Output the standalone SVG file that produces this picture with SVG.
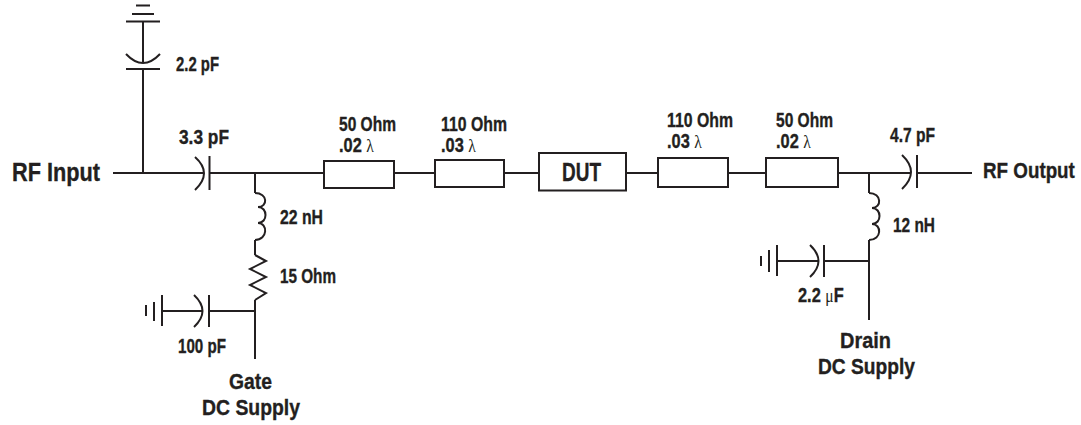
<svg xmlns="http://www.w3.org/2000/svg" width="1081" height="425" viewBox="0 0 1081 425">
<style>
.w{fill:none;stroke:#231f20;stroke-width:2}
text{font-family:"Liberation Sans",Arial,sans-serif;font-weight:700;fill:#231f20;stroke:#231f20;stroke-width:.35;font-size:20px}
.l{font-size:22px}
.i{font-size:26px}
.d{font-size:25px}
.s{font-family:"Liberation Serif","DejaVu Serif",serif;font-weight:400;font-size:19px;stroke:none}
</style>
<rect width="1081" height="425" fill="#fff"/>
<g id="connectors" class="w">
<path d="M113 173H204M209.500 173H324M394 173H435M504 173H539M626 173H658M728 173H766M838 173H911M917 173H972"/>
<path d="M143 22V62M143 69V173"/>
<path d="M255 173V193M255 240V255M255 300V359M162 311H202M209 311H255"/>
<path d="M869 173V193M869 240V320M777 261H818M824 261H869"/>
</g>
<g id="c-2p2" class="w"><path d="M136 5.500H150M132 14H154M126 21.500H160M126 54Q143 72 160 54M126 69H160"/></g>
<g id="c-3p3" class="w"><path d="M195 157Q213 173 195 190M209.500 156V190"/></g>
<g id="l-22" class="w"><path d="M255 193C268 193 268 207 258 207C268 207 268 223 258 223C268 223 268 240 255 240"/></g>
<g id="r-15" class="w"><path d="M255 255L266 261L250 269L266 277L250 285L266 293L255 300"/></g>
<g id="c-100" class="w"><path d="M194 295Q211 311 194 327M209 295V327M162 295V326M154 302V321M146 305V316"/></g>
<g id="tl1" class="w"><rect x="324" y="161" width="70" height="27"/></g>
<g id="tl2" class="w"><rect x="435" y="160" width="69" height="27"/></g>
<g id="dut" class="w"><rect x="539" y="153" width="87" height="37.500"/></g>
<g id="tl3" class="w"><rect x="658" y="158" width="70" height="29"/></g>
<g id="tl4" class="w"><rect x="766" y="158" width="72" height="29"/></g>
<g id="c-4p7" class="w"><path d="M902 155Q920 172 902 189M917 155V188"/></g>
<g id="l-12" class="w"><path d="M869 193C882 193 882 208 872 208C882 208 882 224 872 224C882 224 882 240 869 240"/></g>
<g id="c-2u2" class="w"><path d="M810 245Q827 261 810 277M824 245V277M777 245V276M769 250V272M761 256V266"/></g>
<g id="labels">
<text class="i" x="12" y="180.500" textLength="88" lengthAdjust="spacingAndGlyphs">RF Input</text>
<text class="l" transform="translate(983 177.500) scale(.855 1)">RF Output</text>
<text x="176" y="70.500" textLength="43" lengthAdjust="spacingAndGlyphs">2.2 pF</text>
<text x="179" y="144" textLength="50" lengthAdjust="spacingAndGlyphs">3.3 pF</text>
<text x="280" y="224" textLength="43" lengthAdjust="spacingAndGlyphs">22 nH</text>
<text x="280" y="283" textLength="56" lengthAdjust="spacingAndGlyphs">15 Ohm</text>
<text x="178" y="353" textLength="48" lengthAdjust="spacingAndGlyphs">100 pF</text>
<text class="l" x="229" y="389" textLength="43" lengthAdjust="spacingAndGlyphs">Gate</text>
<text class="l" x="202" y="415" textLength="98" lengthAdjust="spacingAndGlyphs">DC Supply</text>
<text x="339" y="131" textLength="57" lengthAdjust="spacingAndGlyphs">50 Ohm</text>
<text transform="translate(339 152) scale(.82 1)">.02 <tspan class="s">λ</tspan></text>
<text x="441" y="131" textLength="66" lengthAdjust="spacingAndGlyphs">110 Ohm</text>
<text transform="translate(441 152) scale(.82 1)">.03 <tspan class="s">λ</tspan></text>
<text class="d" x="562" y="181" textLength="39" lengthAdjust="spacingAndGlyphs">DUT</text>
<text x="667" y="127" textLength="66" lengthAdjust="spacingAndGlyphs">110 Ohm</text>
<text transform="translate(667 148) scale(.82 1)">.03 <tspan class="s">λ</tspan></text>
<text x="776" y="127" textLength="57" lengthAdjust="spacingAndGlyphs">50 Ohm</text>
<text transform="translate(776 148) scale(.82 1)">.02 <tspan class="s">λ</tspan></text>
<text x="890" y="142" textLength="45" lengthAdjust="spacingAndGlyphs">4.7 pF</text>
<text x="893" y="232" textLength="42" lengthAdjust="spacingAndGlyphs">12 nH</text>
<text transform="translate(798 302) scale(.82 1)">2.2 <tspan class="s">μ</tspan>F</text>
<text class="l" x="840" y="348" textLength="51" lengthAdjust="spacingAndGlyphs">Drain</text>
<text class="l" x="818" y="374" textLength="97" lengthAdjust="spacingAndGlyphs">DC Supply</text>
</g>
</svg>
